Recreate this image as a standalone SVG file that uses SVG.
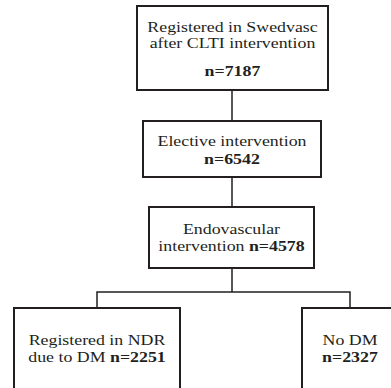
<svg xmlns="http://www.w3.org/2000/svg" width="391" height="388" viewBox="0 0 391 388">
<style>
.box{fill:#fff;stroke:#231f20;stroke-width:2}
.con{fill:none;stroke:#231f20;stroke-width:1.5}
.t{font-family:'Liberation Serif','Times New Roman',serif;font-size:14.5px;fill:#231f20;text-anchor:middle}
.b{font-weight:bold}
</style>
<rect width="391" height="388" fill="#fff"/>
<g id="connectors">
<line class="con" x1="232" y1="90" x2="232" y2="121"/>
<line class="con" x1="232" y1="177" x2="232" y2="207"/>
<line class="con" x1="232" y1="268" x2="232" y2="292"/>
<polyline class="con" points="97,308 97,292 350,292 350,308"/>
</g>
<g id="n1">
<rect class="box" x="137" y="6" width="191" height="84"/>
<text class="t" transform="translate(232.5,31.5) scale(1.23,1)">Registered in Swedvasc</text>
<text class="t" transform="translate(232.5,48) scale(1.23,1)">after CLTI intervention</text>
<text class="t b" transform="translate(232.5,76) scale(1.23,1)">n=7187</text>
</g>
<g id="n2">
<rect class="box" x="143" y="121" width="178" height="56"/>
<text class="t" transform="translate(232,146) scale(1.23,1)">Elective intervention</text>
<text class="t b" transform="translate(232,164) scale(1.23,1)">n=6542</text>
</g>
<g id="n3">
<rect class="box" x="149" y="207" width="165" height="61"/>
<text class="t" transform="translate(231.5,234) scale(1.23,1)">Endovascular</text>
<text class="t" transform="translate(231.5,250.5) scale(1.23,1)">intervention <tspan class="b">n=4578</tspan></text>
</g>
<g id="n4">
<rect class="box" x="14" y="308" width="166" height="100"/>
<text class="t" transform="translate(97,345) scale(1.23,1)">Registered in NDR</text>
<text class="t" transform="translate(97,361.5) scale(1.23,1)">due to DM <tspan class="b">n=2251</tspan></text>
</g>
<g id="n5">
<rect class="box" x="302" y="308" width="100" height="100"/>
<text class="t" transform="translate(350,345) scale(1.23,1)">No DM</text>
<text class="t b" transform="translate(350,361.5) scale(1.23,1)">n=2327</text>
</g>
</svg>
